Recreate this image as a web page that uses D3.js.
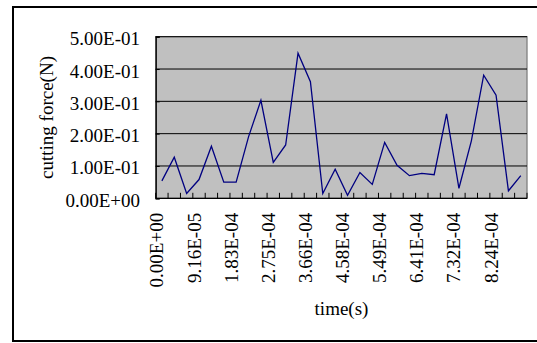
<!DOCTYPE html>
<html>
<head>
<meta charset="utf-8">
<script src="https://cdn.jsdelivr.net/npm/d3@7"></script>
<style>
html, body { margin: 0; padding: 0; background: #ffffff; }
svg { display: block; }
text { font-family: "Liberation Serif", "Times New Roman", serif; fill: #000; }
</style>
</head>
<body>
<svg id="chart" width="537" height="343"></svg>
<script>
// time categories (s)
const categories = [
  "0.00E+00","3.05E-05","6.11E-05","9.16E-05","1.22E-04","1.53E-04",
  "1.83E-04","2.14E-04","2.44E-04","2.75E-04","3.05E-04","3.36E-04",
  "3.66E-04","3.97E-04","4.27E-04","4.58E-04","4.88E-04","5.19E-04",
  "5.49E-04","5.80E-04","6.11E-04","6.41E-04","6.72E-04","7.02E-04",
  "7.32E-04","7.63E-04","7.94E-04","8.24E-04","8.55E-04","8.85E-04"
];
// cutting force (N)
const cuttingForce = [
  0.054, 0.127, 0.015, 0.058, 0.161, 0.050,
  0.050, 0.190, 0.303, 0.111, 0.165, 0.449,
  0.361, 0.015, 0.090, 0.009, 0.080, 0.043,
  0.173, 0.102, 0.070, 0.077, 0.073, 0.261,
  0.031, 0.177, 0.381, 0.319, 0.023, 0.070
];
const yTickValues = [0, 0.1, 0.2, 0.3, 0.4, 0.5];
const yTickLabels = ["0.00E+00","1.00E-01","2.00E-01","3.00E-01","4.00E-01","5.00E-01"];
const xLabelEvery = 3;
const xTitle = "time(s)";
const yTitle = "cutting force(N)";

const svg = d3.select("#chart");
const plot = {left: 155.7, right: 527, top: 36.7, bottom: 198.3};

// outer frame (right side falls off the picture)
svg.append("rect")
  .attr("x", 13).attr("y", 7)
  .attr("width", 540).attr("height", 334)
  .attr("fill", "none").attr("stroke", "#000").attr("stroke-width", 2);

const x = d3.scaleBand()
  .domain(d3.range(categories.length))
  .range([plot.left, plot.right])
  .padding(0);
const y = d3.scaleLinear().domain([0, 0.5]).range([plot.bottom, plot.top]);
const cx = i => x(i) + x.bandwidth() / 2;

// plot background
svg.append("rect")
  .attr("x", plot.left).attr("y", plot.top)
  .attr("width", plot.right - plot.left).attr("height", plot.bottom - plot.top)
  .attr("fill", "#c0c0c0").attr("stroke", "#808080").attr("stroke-width", 1.3);

// gridlines
svg.append("g").selectAll("line")
  .data(yTickValues.filter(v => v > 0))
  .join("line")
  .attr("x1", plot.left).attr("x2", plot.right)
  .attr("y1", d => y(d)).attr("y2", d => y(d))
  .attr("stroke", "#000").attr("stroke-width", 1);

// y axis
const yAxis = d3.axisLeft(y)
  .tickValues(yTickValues)
  .tickSize(-4)
  .tickPadding(14)
  .tickFormat((d, i) => yTickLabels[i]);
const gy = svg.append("g").attr("transform", `translate(${plot.left},0)`).call(yAxis);
gy.select(".domain").attr("stroke", "#000").attr("stroke-width", 1.3);
gy.selectAll(".tick line").attr("stroke", "#000");
gy.selectAll(".tick text")
  .attr("font-family", "Liberation Serif, serif")
  .attr("font-size", 19)
  .attr("dy", "0.42em")
  .attr("x", 140 - plot.left);

// x axis: ticks at category boundaries, inside
const boundaries = d3.range(categories.length + 1).map(i =>
  i < categories.length ? x(i) : x(categories.length - 1) + x.bandwidth());
svg.append("g").selectAll("line")
  .data(boundaries)
  .join("line")
  .attr("x1", d => d).attr("x2", d => d)
  .attr("y1", plot.bottom - 5.5).attr("y2", plot.bottom)
  .attr("stroke", "#000").attr("stroke-width", 1);
svg.append("line")
  .attr("x1", plot.left).attr("x2", plot.right)
  .attr("y1", plot.bottom).attr("y2", plot.bottom)
  .attr("stroke", "#000").attr("stroke-width", 1.3);

// x tick labels (rotated)
svg.append("g").selectAll("text")
  .data(categories.map((c, i) => ({c, i})).filter(d => d.i % xLabelEvery === 0))
  .join("text")
  .attr("transform", d => `translate(${cx(d.i) + 1.5},${plot.bottom + 14.5}) rotate(-90)`)
  .attr("text-anchor", "end")
  .attr("font-size", 19)
  .text(d => d.c);

// series line
const line = d3.line().x((d, i) => cx(i)).y(d => y(d));
svg.append("path")
  .datum(cuttingForce)
  .attr("d", line)
  .attr("fill", "none")
  .attr("stroke", "#000080")
  .attr("stroke-width", 1.3);

// titles
svg.append("text")
  .attr("x", 341.5).attr("y", 315)
  .attr("text-anchor", "middle")
  .attr("font-size", 19)
  .text(xTitle);
svg.append("text")
  .attr("transform", `translate(53,${(plot.top + plot.bottom) / 2}) rotate(-90)`)
  .attr("text-anchor", "middle")
  .attr("font-size", 19)
  .text(yTitle);
</script>
</body>
</html>
